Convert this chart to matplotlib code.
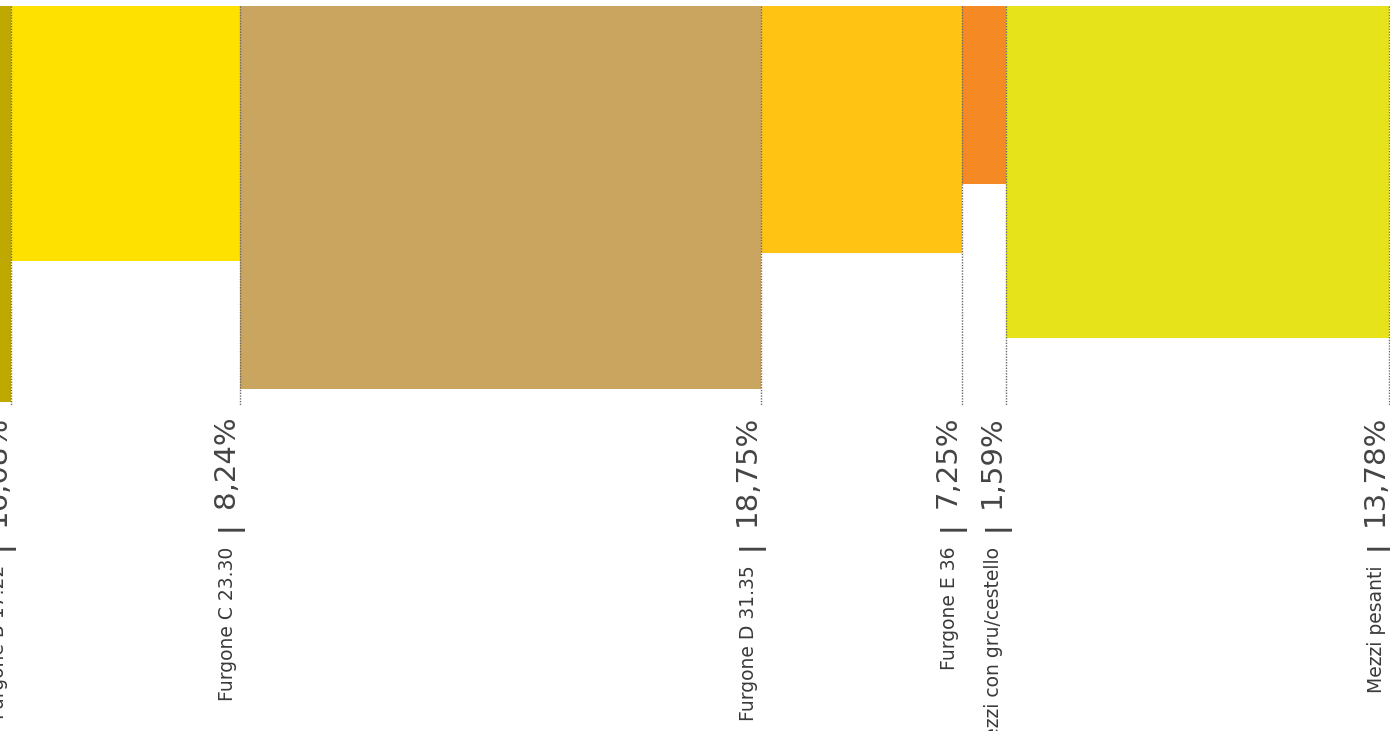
import matplotlib.pyplot as plt
import numpy as np

# Vehicle categories, share of fleet (bar width) and bar depth
categories = ["Furgone B 17.22", "Furgone C 23.30", "Furgone D 31.35",
              "Furgone E 36", "Mezzi con gru/cestello", "Mezzi pesanti"]
shares = [16.08, 8.24, 18.75, 7.25, 1.59, 13.78]
share_labels = ["16,08%", "8,24%", "18,75%", "7,25%", "1,59%", "13,78%"]
depths = [99.2, 63.9, 96.0, 61.9, 44.6, 83.2]
colors = ["#BFA800", "#FFE100", "#C9A55F", "#FFC313", "#F58A24", "#E6E31A"]


def main():
    fig = plt.figure(figsize=(13.9, 7.31), dpi=100)
    # axes spans the bar area only, labels hang below it
    ax = fig.add_axes([0, 326 / 731, 1, 399 / 731])

    widths = np.array(shares)
    lefts = np.concatenate([[0], np.cumsum(widths)[:-1]])
    rights = lefts + widths

    ax.bar(lefts, depths, width=widths, align="edge", color=colors,
           linewidth=0, zorder=1)
    ax.vlines(rights, 0, 100, colors="#6a6a6a", linestyles=(0, (1, 1)),
              linewidth=1, zorder=2)

    px_per_unit = 1378 / (rights[-1] - rights[0])
    ax.set_xlim(rights[0] - 11 / px_per_unit, rights[-1] + 1 / px_per_unit)
    ax.set_ylim(100, 0)
    ax.axis("off")

    for edge, name, pct in zip(rights, categories, share_labels):
        big = ax.annotate(pct, xy=(edge, 100), xycoords="data",
                          xytext=(-6, -10), textcoords="offset pixels",
                          rotation=90, rotation_mode="anchor",
                          ha="right", va="baseline",
                          fontsize=21, color="#444444", family="DejaVu Sans",
                          annotation_clip=False)
        ax.annotate("|", xy=(edge, 0), xycoords=("data", big),
                    xytext=(-4, -19), textcoords="offset pixels",
                    rotation=90, rotation_mode="anchor",
                    ha="center", va="baseline",
                    fontsize=19, fontweight="bold", color="#444444",
                    family="DejaVu Sans", annotation_clip=False)
        ax.annotate(name, xy=(edge, 0), xycoords=("data", big),
                    xytext=(-7, -39), textcoords="offset pixels",
                    rotation=90, rotation_mode="anchor",
                    ha="right", va="baseline",
                    fontsize=13.5, color="#3a3a3a", family="DejaVu Sans",
                    annotation_clip=False)

    fig.savefig("out.png", dpi=100)


if __name__ == "__main__":
    main()
